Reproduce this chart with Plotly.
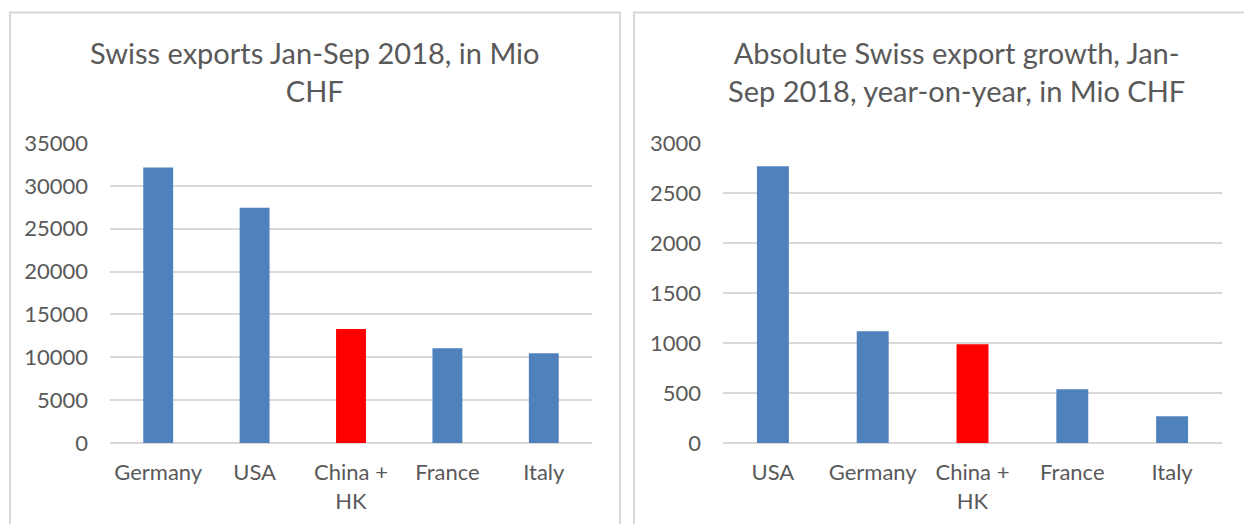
import plotly.graph_objects as go

# Data
left_categories = ["Germany", "USA", "China +<br>HK", "France", "Italy"]
left_values = [32150, 27450, 13300, 11050, 10460]
left_colors = ["#4F81BD", "#4F81BD", "#FF0000", "#4F81BD", "#4F81BD"]
left_title = "Swiss exports Jan-Sep 2018, in Mio<br>CHF"
left_ticks = [0, 5000, 10000, 15000, 20000, 25000, 30000, 35000]

right_categories = ["USA", "Germany", "China +<br>HK", "France", "Italy"]
right_values = [2767, 1117, 987, 537, 267]
right_colors = ["#4F81BD", "#4F81BD", "#FF0000", "#4F81BD", "#4F81BD"]
right_title = "Absolute Swiss export growth, Jan-<br>Sep 2018, year-on-year, in Mio CHF"
right_ticks = [0, 500, 1000, 1500, 2000, 2500, 3000]

W, H = 1244, 524
FONT = "Lato"
TXT = "#595959"
GRID = "#D9D9D9"

def px(x):
    return x / W

def py(y):
    return 1 - y / H

fig = go.Figure()
fig.add_trace(go.Bar(x=left_categories, y=left_values, marker=dict(color=left_colors, line=dict(width=0)),
                     width=0.31, xaxis="x", yaxis="y", hoverinfo="x+y"))
fig.add_trace(go.Bar(x=right_categories, y=right_values, marker=dict(color=right_colors, line=dict(width=0)),
                     width=0.32, xaxis="x2", yaxis="y2", hoverinfo="x+y"))

ydom = [py(443), py(143)]
tickfont = dict(family=FONT, size=22, color=TXT)

common_x = dict(showgrid=False, showline=False, zeroline=False, tickfont=tickfont, ticks="",
                ticklabelstandoff=14, fixedrange=True, automargin=False)
common_y = dict(showgrid=True, gridcolor=GRID, gridwidth=2,
                zeroline=True, zerolinecolor=GRID, zerolinewidth=2,
                showline=False, ticks="", tickfont=tickfont, ticklabelstandoff=21,
                tickformat="d", fixedrange=True, automargin=False)

fig.update_layout(
    template="none",
    width=W, height=H,
    autosize=False,
    margin=dict(l=0, r=0, t=0, b=0, pad=0, autoexpand=False),
    paper_bgcolor="white", plot_bgcolor="white",
    showlegend=False,
    font=dict(family=FONT, color=TXT),
    xaxis=dict(domain=[px(110), px(592)], anchor="y", **common_x),
    yaxis=dict(domain=ydom, anchor="x", range=[0, 35000], tickvals=left_ticks, **common_y),
    xaxis2=dict(domain=[px(723), px(1222)], anchor="y2", **common_x),
    yaxis2=dict(domain=ydom, anchor="x2", range=[0, 3000], tickvals=right_ticks, **common_y),
    annotations=[
        dict(text=left_title, x=px(315), y=py(71), xref="paper", yref="paper",
             xanchor="center", yanchor="middle", showarrow=False,
             font=dict(family=FONT, size=29, color=TXT)),
        dict(text=right_title, x=px(956), y=py(71), xref="paper", yref="paper",
             xanchor="center", yanchor="middle", showarrow=False,
             font=dict(family=FONT, size=29, color=TXT)),
    ],
    shapes=[
        dict(type="rect", xref="paper", yref="paper", x0=px(10), x1=px(620), y0=-0.1, y1=py(12.5),
             line=dict(color=GRID, width=2), fillcolor="rgba(0,0,0,0)", layer="below"),
        dict(type="rect", xref="paper", yref="paper", x0=px(634), x1=1.1, y0=-0.1, y1=py(12.5),
             line=dict(color=GRID, width=2), fillcolor="rgba(0,0,0,0)", layer="below"),
    ],
)

fig.write_html("out.html", config={"displayModeBar": False},
               post_script="document.body.style.margin='0';document.body.style.overflow='hidden';")
